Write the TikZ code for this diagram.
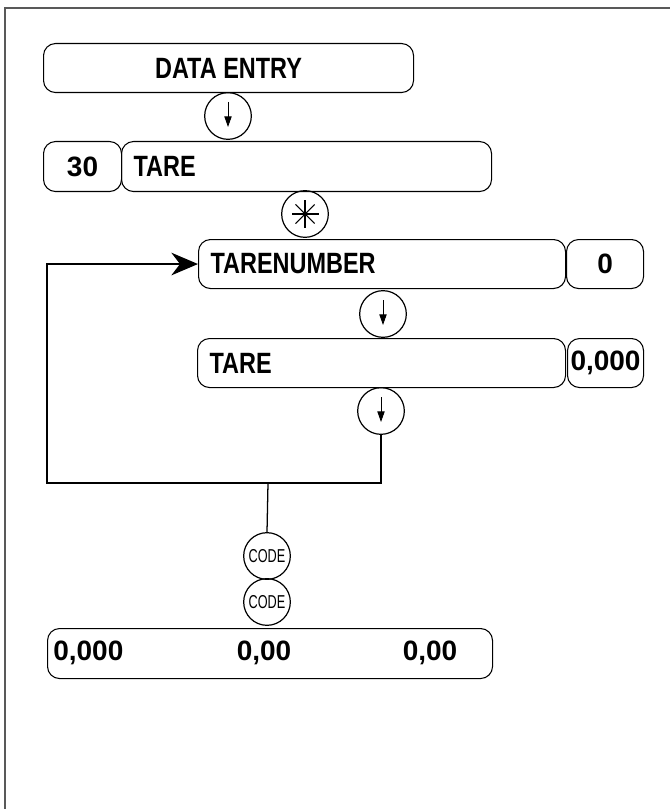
\documentclass[tikz,border=0pt]{standalone}
\usepackage{fontspec}
\usetikzlibrary{arrows.meta,calc}
\newfontfamily\labfont[FakeStretch=0.8]{Liberation Sans}
\newfontfamily\numfont{Liberation Sans}
\newfontfamily\codefont[FakeStretch=0.68]{Liberation Sans}
\newcommand\lab{\labfont\bfseries\fontsize{22}{24}\selectfont}
\newcommand\num{\numfont\bfseries\fontsize{21}{24}\selectfont}
\begin{document}
\begin{tikzpicture}[x=0.75pt,y=-0.75pt,
  box/.style={draw, line width=0.8pt, rounded corners=9pt, anchor=north west, inner sep=0pt},
  lbox/.style={box, align=left, inner xsep=9pt},
  key/.style={draw, circle, line width=0.9pt, minimum size=35pt, inner sep=0pt},
  conn/.style={line width=0.95pt},
  dnarrow/.style={line width=0.7pt, -{Triangle[length=8pt,width=5.5pt]}},
  frame/.style={draw=black!65, line width=1.6pt}
]
\useasboundingbox (0,0) rectangle (670,809);
\draw[frame] (5,809) -- (5,8) -- (670,8);

% rows
\node[box, minimum width=277.5pt, minimum height=36.75pt] (de) at (43,43) {\lab DATA ENTRY};
\node[key] (c1) at (228,116) {};

\node[box, minimum width=58.5pt, minimum height=37.5pt] (n30) at (43,141) {\num 30};
\node[lbox, text width=259.5pt, minimum height=37.5pt] (tare1) at (121,141) {\lab TARE};
\node[key] (ast) at (305,214) {};

\node[lbox, text width=257.25pt, inner xsep=9pt, minimum height=36.75pt] (tn) at (198,239) {\lab TARENUMBER};
\node[box, minimum width=57.75pt, minimum height=36.75pt] (tn0) at (566,239) {\num 0};
\node[key] (c2) at (383,314) {};

\node[lbox, text width=258pt, minimum height=36.75pt] (tare2) at (197,338) {\lab TARE};
\node[box, minimum width=57pt, minimum height=36.75pt] (t0) at (567,338) {\num 0,000};
\node[key] (c3) at (381,411) {};

\node[key] (code1) at (267,556) {\codefont\fontsize{14}{15}\selectfont CODE};
\node[key] (code2) at (267,602) {\codefont\fontsize{14}{15}\selectfont CODE};

\node[box, minimum width=333.75pt, minimum height=37.5pt] (res) at (47,628) {};
\node[anchor=west, inner sep=0pt] (r1) at (53,653) {\num 0,000};
\node[inner sep=0pt] (r2) at (264,653) {\num 0,00};
\node[inner sep=0pt] (r3) at (430,653) {\num 0,00};

% arrow symbols in keys
\foreach \k in {c1,c2,c3}{
  \draw[dnarrow] ($(\k)+(0,-14)$) -- ($(\k)+(0,11)$);
}
\foreach \a in {0,45,90,135}{
  \draw[line width=0.8pt] ($(ast)+(\a:13.5)$) -- ($(ast)+(\a+180:13.5)$);
}

% loop connectors
\coordinate (jr) at (381,483);
\coordinate (jl) at (47,483);
\coordinate (jm) at (268,483);
\draw[conn, -{Stealth[length=20pt,width=17pt]}] (c3.south) -- (jr) -- (jl) |- (tn.west);
\draw[conn] (jm) -- (code1.north);
\end{tikzpicture}
\end{document}
